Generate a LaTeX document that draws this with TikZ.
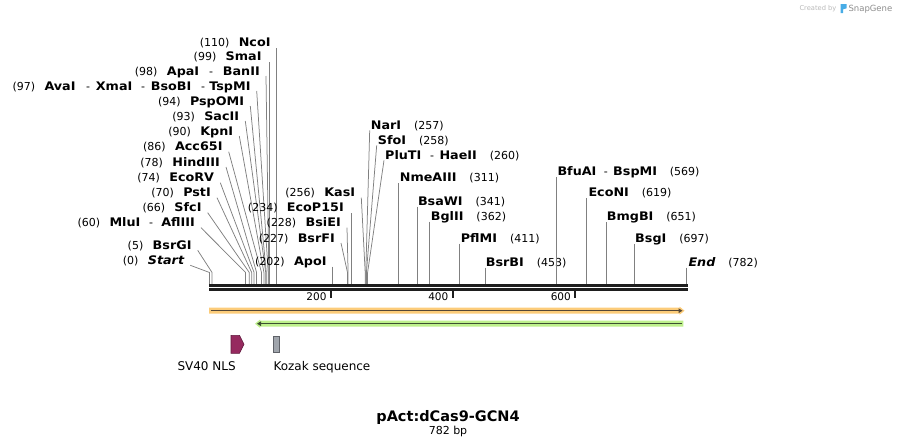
\documentclass[tikz,border=0pt]{standalone}
\usepackage{fontspec}
\setmainfont{DejaVu Sans}
\newfontfamily\namefont{DejaVu Sans}[FakeStretch=1.08]
\usetikzlibrary{arrows.meta}
\definecolor{sitegray}{RGB}{128,128,128}
\definecolor{barc}{RGB}{30,30,30}
\definecolor{orangeband}{RGB}{252,204,122}
\definecolor{orangeline}{RGB}{85,72,55}
\definecolor{greenband}{RGB}{190,240,140}
\definecolor{greenline}{RGB}{60,78,50}
\definecolor{nlsfill}{RGB}{150,42,95}
\definecolor{nlsdraw}{RGB}{95,25,60}
\definecolor{kozfill}{RGB}{160,165,172}
\definecolor{kozdraw}{RGB}{95,98,104}
\definecolor{wmlight}{RGB}{185,185,185}
\definecolor{wmdark}{RGB}{140,140,140}
\definecolor{logoblue}{RGB}{72,172,230}
% number left of a name / right of a name
\newcommand\numL[3]{\node[numl, anchor=base east] (#1) at ([xshift=-9pt]#2.base west) {#3};}
\newcommand\numR[3]{\node[numl, anchor=base west] (#1) at ([xshift=12.5pt]#2.base east) {#3};}
\newcommand\namee[4]{\node[namel, anchor=base east] (#1) at (#2,#3) {#4};}
\newcommand\namew[4]{\node[namel, anchor=base west] (#1) at (#2,#3) {#4};}
\newcommand\dashn[3]{\node[numl, anchor=base] (#1) at (#2,#3) {-};}
\newcommand\sitept[2]{\coordinate (#1k) at (#2,272.5); \coordinate (#1s) at (#2,284);}
\newcommand\lslant[1]{\draw[siteln] ([xshift=6pt,yshift=-1pt]#1.base east) -- (#1k) -- (#1s);}
\newcommand\rslant[1]{\draw[siteln] ([xshift=-1pt,yshift=-1pt]#1.base west) -- (#1k) -- (#1s);}
\newcommand\vertln[1]{\draw[siteln] (#1s |- #1.base) ++(0,1.5) -- (#1s);}
\begin{document}
\begin{tikzpicture}[x=1pt,y=-1pt,
  numl/.style={inner sep=0pt, font=\fontsize{11}{13}\selectfont},
  namel/.style={inner sep=0pt, font=\namefont\fontsize{11.8}{14}\selectfont\bfseries},
  siteln/.style={draw=sitegray, line width=0.75pt},
  featlbl/.style={inner sep=0pt, anchor=base west, font=\fontsize{12}{14}\selectfont},
  ticklbl/.style={inner sep=0pt, anchor=base east, font=\fontsize{10.5}{12}\selectfont},
  tickmark/.style={draw=barc, line width=1.7pt}]
\useasboundingbox (0,0) rectangle (897,447);

% ---------- left cluster ----------
\namee{ncoi}{270.7}{46.7}{NcoI} \numL{ncoin}{ncoi}{(110)}
\sitept{ncoi}{276.1} \vertln{ncoi}

\namee{smai}{261.7}{60.7}{SmaI} \numL{smain}{smai}{(99)}
\sitept{smai}{269.4} \vertln{smai}

\namew{apai}{166.7}{75}{ApaI} \numL{banin}{apai}{(98)} \dashn{banid}{211}{75} \namee{bani}{260}{75}{BanII}
\sitept{bani}{268.8} \lslant{bani}

\namew{avai}{44.3}{90}{AvaI} \numL{tspmin}{avai}{(97)} \dashn{tspd1}{88}{90}
\namew{xmai}{95.7}{90}{XmaI} \dashn{tspd2}{143}{90}
\namew{bsobi}{150.7}{90}{BsoBI} \dashn{tspd3}{203}{90} \namee{tspmi}{250.7}{90}{TspMI}
\sitept{tspmi}{268.2} \lslant{tspmi}

\namee{pspomi}{244.3}{105}{PspOMI} \numL{pspomin}{pspomi}{(94)}
\sitept{pspomi}{266.3} \lslant{pspomi}

\namee{sac}{239.3}{120}{SacII} \numL{sacn}{sac}{(93)}
\sitept{sac}{265.7} \lslant{sac}

\namee{kpn}{233.3}{135}{KpnI} \numL{kpnn}{kpn}{(90)}
\sitept{kpn}{263.9} \lslant{kpn}

\namee{acc}{222.7}{150.7}{Acc65I} \numL{accn}{acc}{(86)}
\sitept{acc}{261.5} \lslant{acc}

\namee{hind}{220}{166}{HindIII} \numL{hindn}{hind}{(78)}
\sitept{hind}{256.6} \lslant{hind}

\namee{ecorv}{214.3}{181.7}{EcoRV} \numL{ecorvn}{ecorv}{(74)}
\sitept{ecorv}{254.1} \lslant{ecorv}

\namee{pst}{211}{196.7}{PstI} \numL{pstn}{pst}{(70)}
\sitept{pst}{251.7} \lslant{pst}

\namee{sfc}{201.7}{211.7}{SfcI} \numL{sfcn}{sfc}{(66)}
\sitept{sfc}{249.3} \lslant{sfc}

\namew{mlu}{109.3}{226.7}{MluI} \numL{mlun}{mlu}{(60)} \dashn{afld}{151}{226.7} \namee{afl}{195}{226.7}{AflIII}
\sitept{afl}{245.6} \lslant{afl}

\namee{bsrgi}{191.7}{249.3}{BsrGI} \numL{bsrgin}{bsrgi}{(5)}
\sitept{bsrgi}{212.05} \lslant{bsrgi}

\namee{start}{184.3}{264.3}{\itshape Start} \numL{startn}{start}{(0)}
\sitept{start}{209.5} \lslant{start}

% ---------- middle left ----------
\namee{kas}{355.3}{196.7}{KasI} \numL{kasn}{kas}{(256)}
\sitept{kas}{365.2} \lslant{kas}

\namee{ecop}{344}{211.7}{EcoP15I} \numL{ecopn}{ecop}{(234)}
\sitept{ecop}{351.7} \vertln{ecop}

\namee{bsiei}{341}{226.7}{BsiEI} \numL{bsiein}{bsiei}{(228)}
\sitept{bsiei}{348.1} \lslant{bsiei}

\namee{bsrfi}{335}{242}{BsrFI} \numL{bsrfin}{bsrfi}{(227)}
\sitept{bsrfi}{347.5} \lslant{bsrfi}

\namee{apo}{326.7}{265}{ApoI} \numL{apon}{apo}{(202)}
\sitept{apo}{332.2} \vertln{apo}

% ---------- right slanted ----------
\namew{nar}{370.7}{129.3}{NarI} \numR{narn}{nar}{(257)}
\sitept{nar}{365.8} \rslant{nar}

\namew{sfo}{377.7}{144.3}{SfoI} \numR{sfon}{sfo}{(258)}
\sitept{sfo}{366.4} \rslant{sfo}

\namew{plu}{385}{159.3}{PluTI} \dashn{plud}{432}{159.3} \namew{hae}{439.3}{159.3}{HaeII} \numR{plun}{hae}{(260)}
\sitept{plu}{367.6} \rslant{plu}

% ---------- right vertical ----------
\namew{nme}{399.7}{181.7}{NmeAIII} \numR{nmen}{nme}{(311)}
\sitept{nme}{398.7} \vertln{nme}

\namew{bsaw}{417.8}{205}{BsaWI} \numR{bsawn}{bsaw}{(341)}
\sitept{bsaw}{417} \vertln{bsaw}

\namew{bgl}{430.7}{220}{BglII} \numR{bgln}{bgl}{(362)}
\sitept{bgl}{429.8} \vertln{bgl}

\namew{pfl}{460.7}{242}{PflMI} \numR{pfln}{pfl}{(411)}
\sitept{pfl}{459.7} \vertln{pfl}

\namew{bsrb}{485.7}{266}{BsrBI} \numR{bsrbn}{bsrb}{(453)}
\sitept{bsrb}{485.3} \vertln{bsrb}

\namew{bfua}{557.3}{175.3}{BfuAI}
\node[numl, anchor=base west] (bfud) at ([xshift=7pt]bfua.base east) {-};
\node[namel, anchor=base west] (bspm) at ([xshift=5pt]bfud.base east) {BspMI};
\numR{bfun}{bspm}{(569)}
\sitept{bfua}{556.1} \vertln{bfua}

\namew{econ}{588.3}{196.7}{EcoNI} \numR{econn}{econ}{(619)}
\sitept{econ}{586.6} \vertln{econ}

\namew{bmgb}{606.7}{220.7}{BmgBI} \numR{bmgbn}{bmgb}{(651)}
\sitept{bmgb}{606.1} \vertln{bmgb}

\namew{bsg}{635}{242.5}{BsgI} \numR{bsgn}{bsg}{(697)}
\sitept{bsg}{634.2} \vertln{bsg}

\namew{endl}{688.3}{266}{\itshape End} \numR{endn}{endl}{(782)}
\sitept{endl}{686.8} \vertln{endl}

% ---------- backbone ----------
\fill[barc] (209,284) rectangle (687.7,286.6);
\fill[barc] (209,288.2) rectangle (687.7,290.8);
\coordinate (t200) at (331.2,290.8);
\coordinate (t400) at (453.2,290.8);
\coordinate (t600) at (575.2,290.8);
\draw[tickmark] (t200) -- ++(0,7.2);
\draw[tickmark] (t400) -- ++(0,7.2);
\draw[tickmark] (t600) -- ++(0,7.2);
\node[ticklbl] (l200) at (326.7,300.7) {200};
\node[ticklbl] (l400) at (448.5,300.7) {400};
\node[ticklbl] (l600) at (571,300.7) {600};

% ---------- features ----------
\fill[orangeband] (209,307.7) -- (679.5,307.7) -- (679.5,306.6) -- (684.5,310.7) -- (679.5,314.8) -- (679.5,313.7) -- (209,313.7) -- cycle;
\draw[orangeline, line width=1.4pt, -{Triangle[length=4pt,width=4.5pt]}] (210.5,310.7) -- (682.5,310.7);
\fill[greenband] (683.3,320.7) -- (260,320.7) -- (260,319.6) -- (255,323.7) -- (260,327.8) -- (260,326.7) -- (683.3,326.7) -- cycle;
\draw[greenline, line width=1.4pt, -{Triangle[length=4pt,width=4.5pt]}] (682,323.7) -- (257,323.7);

\draw[fill=nlsfill, draw=nlsdraw, line width=0.6pt] (231,335.3) -- (239.5,335.3) -- (244,344.3) -- (239.5,353.3) -- (231,353.3) -- cycle;
\draw[fill=kozfill, draw=kozdraw, line width=0.6pt] (273.5,336) rectangle (279.3,352.3);
\node[featlbl] (nlslbl) at (177.3,370) {SV40 NLS};
\node[featlbl] (kozlbl) at (273.3,370) {Kozak sequence};

% ---------- title ----------
\node[inner sep=0pt, anchor=base, font=\fontsize{14.5}{16}\selectfont\bfseries] (title) at (448,421.5) {pAct:dCas9-GCN4};
\node[inner sep=0pt, anchor=base, font=\fontsize{11}{13}\selectfont] (size) at (448,434.3) {782 bp};

% ---------- watermark ----------
\node[inner sep=0pt, anchor=base west, text=wmlight, font=\fontsize{6.7}{8}\selectfont] (wm1) at (799.3,10.5) {Created by};
\fill[logoblue] (840.5,4) -- (846.5,4) -- (846.5,8.3) -- (843.2,9.3) -- (843.2,13) -- (840.5,13) -- cycle;
\node[inner sep=0pt, anchor=base west, text=wmdark, font=\fontsize{8.5}{10}\selectfont] (wm2) at (848.3,11) {SnapGene};
\end{tikzpicture}
\end{document}
